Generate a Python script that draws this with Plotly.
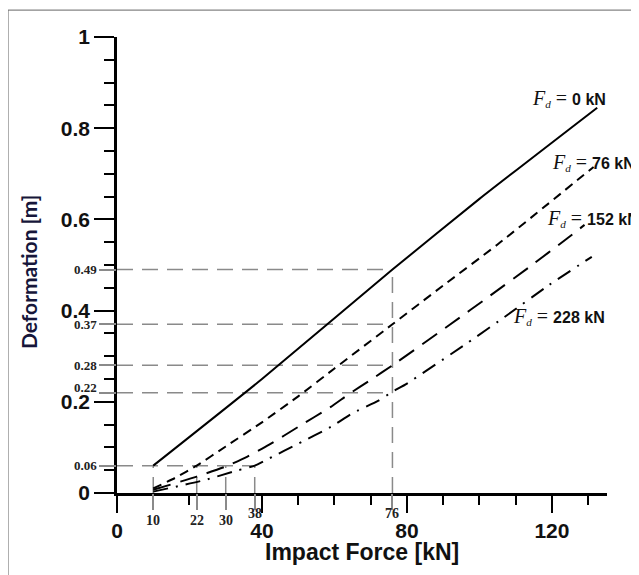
import plotly.graph_objects as go

# ---------------- data ----------------
force_fd0 = [10, 40, 76, 100, 132.5]
def_fd0 = [0.06, 0.25, 0.49, 0.645, 0.845]

force_fd76 = [10, 16, 22, 30, 40, 50, 60, 76, 90, 105, 131.5]
def_fd76 = [0.01, 0.033, 0.06, 0.102, 0.155, 0.212, 0.273, 0.37, 0.455, 0.545, 0.715]

force_fd152 = [10, 22, 30, 36, 42, 50, 59, 64, 70, 76, 92, 103, 114, 124, 129]
def_fd152 = [0.007, 0.036, 0.058, 0.08, 0.106, 0.145, 0.189, 0.217, 0.248, 0.28, 0.37, 0.433, 0.497, 0.557, 0.588]

force_fd228 = [10, 24, 33, 38, 42, 50, 59, 65, 72, 76, 80, 96.5, 108, 119, 131]
def_fd228 = [0.003, 0.028, 0.049, 0.06, 0.076, 0.108, 0.145, 0.175, 0.202, 0.222, 0.24, 0.328, 0.392, 0.455, 0.518]

series_names = ["0", "76", "152", "228"]

# marked crossing points (force, deformation)
marked_force = [10, 22, 30, 38, 76, 76, 76, 76]
marked_def = [0.06, 0.06, 0.06, 0.06, 0.49, 0.37, 0.28, 0.22]

ref_force_ticks = [10, 22, 30, 38, 76]
ref_def_ticks = [0.06, 0.22, 0.28, 0.37, 0.49]
ref_force_labels = ["10", "22", "30", "38", "76"]
ref_def_labels = ["0.06", "0.22", "0.28", "0.37", "0.49"]

x_major_ticks = [0, 40, 80, 120]

# ---------------- figure ----------------
SERIF = "Liberation Serif, Times New Roman, serif"
SANS = "Liberation Sans, Arial, sans-serif"

fig = go.Figure()

styles = ["solid", "9px,6px", "18px,10px", "15px,8px,2px,8px"]
xs = [force_fd0, force_fd76, force_fd152, force_fd228]
ys = [def_fd0, def_fd76, def_fd152, def_fd228]
for name, x, y, dash in zip(series_names, xs, ys, styles):
    fig.add_trace(go.Scatter(
        x=x, y=y, mode="lines", name=f"Fd = {name} kN",
        line=dict(color="black", width=2, dash=dash, shape="spline", smoothing=0.5),
        showlegend=False, hoverinfo="x+y",
    ))

# reference dashed lines
shapes = []
ref_color = "#8a8a8a"
for yv in sorted(set(marked_def)):
    xmax = max(f for f, d in zip(marked_force, marked_def) if d == yv)
    shapes.append(dict(type="line", xref="x", yref="y", x0=0, x1=xmax, y0=yv, y1=yv,
                       line=dict(color=ref_color, width=1.5, dash="16px,9px"), layer="below"))
for xv in sorted(set(marked_force)):
    ymax = max(d for f, d in zip(marked_force, marked_def) if f == xv)
    shapes.append(dict(type="line", xref="x", yref="y", x0=xv, x1=xv, y0=0, y1=ymax,
                       line=dict(color=ref_color, width=1.5, dash="16px,9px"), layer="below"))

# outer frame
shapes.append(dict(type="rect", xref="paper", yref="paper", x0=-0.2224, x1=1.09,
                   y0=-0.21, y1=1.059, line=dict(color="#666666", width=1), layer="below"))

annotations = []
# small serif labels on y
for v, lab in zip(ref_def_ticks, ref_def_labels):
    shift = 5 if abs(v - 0.2) < 0.03 else 0
    annotations.append(dict(x=0, y=v, xref="x", yref="y", text=lab, showarrow=False,
                            xanchor="right", yanchor="middle", xshift=-18, yshift=shift,
                            font=dict(family=SERIF, size=13, color="#222", weight="bold")))
# small serif labels on x
for v, lab in zip(ref_force_ticks, ref_force_labels):
    near_major = min(abs(v - m) for m in x_major_ticks) < 5
    annotations.append(dict(x=v, y=0, xref="x", yref="y", text=lab, showarrow=False,
                            xanchor="center", yanchor="middle", yshift=-20 if near_major else -27,
                            font=dict(family=SERIF, size=14, color="#222", weight="bold")))

# curve labels
label_pos = [(113.9, 0.866), (119.4, 0.724), (118.1, 0.603), (108.6, 0.386)]
for name, (lx, ly) in zip(series_names, label_pos):
    txt = (f'<span style="font-family:{SERIF};font-size:20px;font-weight:normal"><i>F</i></span>'
           f'<sub><span style="font-family:{SERIF};font-weight:normal"><i>d</i></span></sub>'
           f'<span style="font-family:{SERIF};font-size:20px;font-weight:normal"> = </span>{name} kN')
    annotations.append(dict(x=lx, y=ly, xref="x", yref="y", text=txt, showarrow=False,
                            xanchor="left", yanchor="middle",
                            font=dict(family=SANS, size=16, color="#111", weight="bold")))

# axis titles
annotations.append(dict(x=-0.1816, y=0.4846, xref="paper", yref="paper",
                        text="Deformation [m]", textangle=-90, showarrow=False,
                        xanchor="center", yanchor="middle",
                        font=dict(family="Lato, Open Sans, sans-serif", size=21, color="#16163a",
                                  weight="bold")))
annotations.append(dict(x=0.5, y=-0.129, xref="paper", yref="paper",
                        text="Impact Force [kN]", showarrow=False,
                        xanchor="center", yanchor="middle",
                        font=dict(family=SANS, size=23, color="#111", weight="bold")))

fig.update_layout(
    width=631, height=567,
    margin=dict(l=109, r=32, t=29, b=82, autoexpand=False),
    paper_bgcolor="white", plot_bgcolor="white",
    shapes=shapes, annotations=annotations,
    xaxis=dict(range=[0, 135.2], tickvals=x_major_ticks, ticks="outside", ticklen=17,
               tickwidth=2, tickcolor="black", showline=True, linewidth=2.5, linecolor="black",
               showgrid=False, zeroline=False,
               tickfont=dict(family=SANS, size=21, color="#111", weight="bold"),
               minor=dict(dtick=10, tick0=0, ticks="outside", ticklen=9, tickwidth=2,
                          tickcolor="black", showgrid=False)),
    yaxis=dict(range=[0, 1], dtick=0.2, tick0=0, ticks="outside", ticklen=20,
               tickwidth=2, tickcolor="black", showline=True, linewidth=2.5, linecolor="black",
               showgrid=False, zeroline=False,
               tickfont=dict(family=SANS, size=21, color="#111", weight="bold"),
               minor=dict(dtick=0.05, tick0=0, ticks="outside", ticklen=10, tickwidth=2,
                          tickcolor="black", showgrid=False)),
    xaxis2=dict(overlaying="x", anchor="y", side="bottom", range=[0, 135.2],
                tickvals=ref_force_ticks, ticks="outside", ticklen=16, tickwidth=1.5,
                tickcolor=ref_color, showticklabels=False, showgrid=False, zeroline=False,
                showline=False),
    yaxis2=dict(overlaying="y", anchor="x", side="left", range=[0, 1],
                tickvals=ref_def_ticks, ticks="outside", ticklen=17, tickwidth=1.5,
                tickcolor=ref_color, showticklabels=False, showgrid=False, zeroline=False,
                showline=False),
)

# invisible trace to activate overlay axes
fig.add_trace(go.Scatter(x=[None], y=[None], xaxis="x2", yaxis="y2", showlegend=False,
                         hoverinfo="skip"))

fig.write_html("out.html")
